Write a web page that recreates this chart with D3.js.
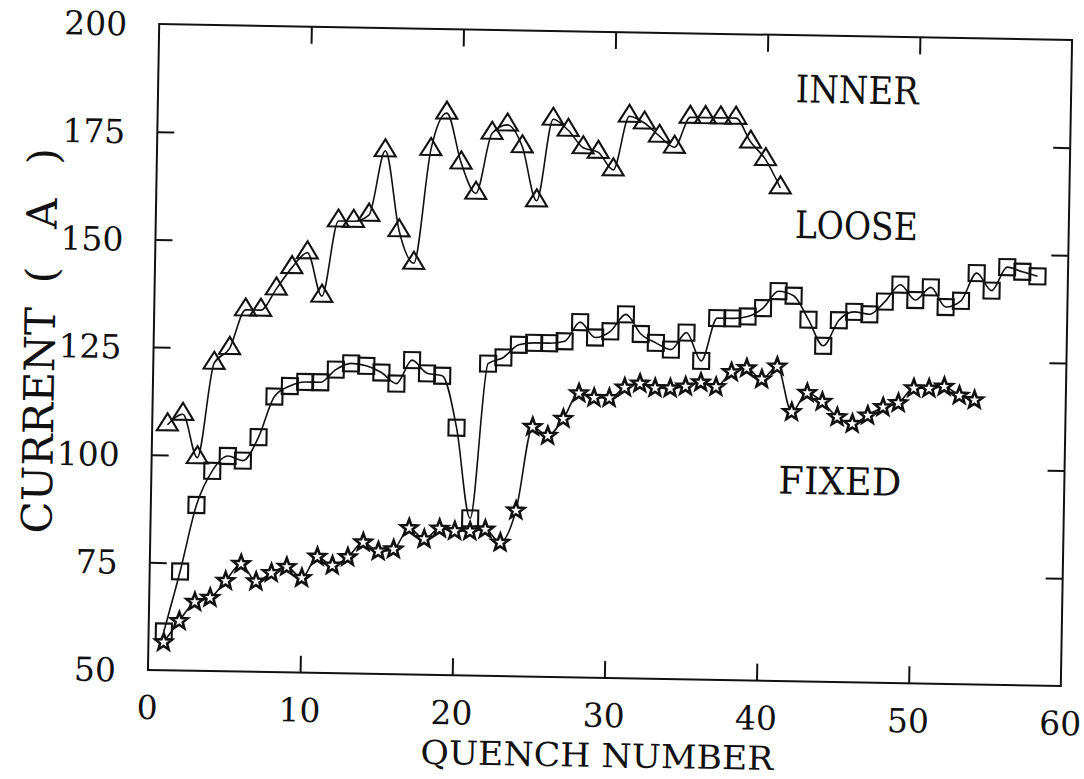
<!DOCTYPE html>
<html>
<head>
<meta charset="utf-8">
<script src="https://cdn.jsdelivr.net/npm/d3@7"></script>
<style>
    html, body { margin: 0; padding: 0; background: #fff; }
    svg { display: block; }
    text { font-family: "DejaVu Serif", "Liberation Serif", serif; fill: #111; }
</style>
</head>
<body>
<svg id="chart" width="1084" height="779"></svg>
<script>
// currents, one value per quench (quench 1, 2, 3 ...)
const innerCurrent = [107, 109.5, 99.5, 121.5, 125, 134, 134, 139, 144, 147.5,
    137.5, 155, 155, 156.5, 171.5, 153, 145.5, 172, 180.5, 169,
    162, 176, 178, 173, 160.5, 179.5, 177, 173, 172, 168,
    180.5, 179, 176, 173.5, 180.5, 180.5, 180.5, 180.5, 175, 171,
    164.5];
const looseCurrent = [59, 73, 88.5, 96.5, 100, 99, 104.5, 114, 116.5, 117.5,
    117.5, 120.5, 122, 121.5, 120, 117.5, 123, 120, 119.5, 107.5,
    86.5, 122.5, 124, 127, 127.5, 127.5, 128, 132.5, 129, 130.5,
    134.5, 130, 128, 126.5, 130.5, 124, 134, 134, 134.5, 136.5,
    140.5, 139.5, 134, 128, 134, 136, 135.5, 138.5, 142.5, 139,
    142, 137.5, 139, 145.5, 141.5, 147, 146, 145];
const fixedCurrent = [56.5, 61.5, 66, 67, 71, 75, 71, 73, 74.5, 72,
    77, 75, 77, 80.5, 78.5, 79, 84, 81.5, 84, 83.5,
    83.5, 84, 81, 88.5, 108, 106, 110, 116, 115, 115,
    117.5, 118.5, 117.5, 117.5, 118, 119, 118, 121.5, 122.5, 120,
    123, 112.5, 117, 115, 111.5, 110, 112, 114, 115, 118.5,
    118.5, 119, 117, 116];

const xTicks = [0, 10, 20, 30, 40, 50, 60];
const yTicks = [50, 75, 100, 125, 150, 175, 200];
const seriesNames = ['INNER', 'LOOSE', 'FIXED'];
const seriesMarkers = ['triangle', 'square', 'star'];
// where each name sits, in quench / ampere units
const nameAtQuench = [41.9, 42.0, 41.2];
const nameAtCurrent = [184.4, 152.9, 93.5];

const xTitle = 'QUENCH NUMBER';
// the y title is typeset in pieces with wide gaps round the unit
const yTitleParts = ['CURRENT', '(', 'A', ')'];
const yTitleGaps = [0, 24, 38, 34];

let margin = {top: 32, right: 17.5, bottom: 101, left: 153.5},
    width = 1084 - margin.left - margin.right,
    height = 779 - margin.top - margin.bottom;

const svg = d3.select('#chart');
// the scanned page is turned about one degree
let page = svg.append('g')
    .attr('transform', 'rotate(1,' + (margin.left + width / 2) + ',' + (margin.top + height / 2) + ')');
let g = page.append('g')
    .attr('transform', 'translate(' + margin.left + ',' + margin.top + ')');

let x = d3.scaleLinear().domain([0, 60]).range([0, width]);
let y = d3.scaleLinear().domain([50, 200]).range([height, 0]);

function markerPath(kind) {
    if (kind === 'triangle') {
        return 'M0,-11.5L10.5,5.5L-10.5,5.5Z';
    }
    if (kind === 'square') {
        return 'M-8,-8H8V8H-8Z';
    }
    // five pointed star
    let pts = [];
    for (let i = 0; i < 10; i++) {
        let r = i % 2 === 0 ? 8.8 : 3.7;
        let a = -Math.PI / 2 + i * Math.PI / 5;
        pts.push([r * Math.cos(a), r * Math.sin(a)]);
    }
    return 'M' + pts.map(p => p[0].toFixed(2) + ',' + p[1].toFixed(2)).join('L') + 'Z';
}

// frame
g.append('rect')
    .attr('width', width)
    .attr('height', height)
    .attr('fill', 'none')
    .attr('stroke', '#111')
    .attr('stroke-width', 2);

// inward ticks on all four sides, no labels on the opposite sides
let tickLen = 17;
let innerX = xTicks.slice(1, -1);
let innerY = yTicks.slice(1, -1);
g.append('g')
    .attr('transform', 'translate(0,' + height + ')')
    .call(d3.axisBottom(x).tickValues(innerX).tickSize(-tickLen).tickFormat(''))
    .call(a => a.select('.domain').remove());
g.append('g')
    .call(d3.axisTop(x).tickValues(innerX).tickSize(-tickLen).tickFormat(''))
    .call(a => a.select('.domain').remove());
g.append('g')
    .call(d3.axisLeft(y).tickValues(innerY).tickSize(-tickLen).tickFormat(''))
    .call(a => a.select('.domain').remove());
g.append('g')
    .attr('transform', 'translate(' + width + ',0)')
    .call(d3.axisRight(y).tickValues(innerY).tickSize(-tickLen).tickFormat(''))
    .call(a => a.select('.domain').remove());
g.selectAll('.tick line').attr('stroke', '#111').attr('stroke-width', 2);

// tick labels
g.selectAll('.xlabel')
    .data(xTicks)
    .enter().append('text')
    .attr('class', 'xlabel')
    .attr('x', d => x(d))
    .attr('y', height + 49)
    .attr('text-anchor', 'middle')
    .attr('font-size', 33)
    .text(d => d);
g.selectAll('.ylabel')
    .data(yTicks)
    .enter().append('text')
    .attr('class', 'ylabel')
    .attr('x', -32)
    .attr('y', d => y(d))
    .attr('dy', '0.36em')
    .attr('text-anchor', 'end')
    .attr('font-size', 33)
    .text(d => d);

// axis titles
g.append('text')
    .attr('x', x(29.6))
    .attr('y', height + 89)
    .attr('text-anchor', 'middle')
    .attr('font-size', 33)
    .attr('textLength', 353)
    .attr('lengthAdjust', 'spacingAndGlyphs')
    .text(xTitle);
let yTitle = g.append('text')
    .attr('transform', 'translate(' + (-99) + ',' + (y(126)) + ') rotate(-90)')
    .attr('text-anchor', 'middle')
    .attr('font-size', 42);
yTitle.selectAll('tspan')
    .data(yTitleParts)
    .enter().append('tspan')
    .attr('dx', (d, i) => yTitleGaps[i])
    .text(d => d);

// series
const allSeries = [innerCurrent, looseCurrent, fixedCurrent];
let line = d3.line()
    .x((d, i) => x(i + 1))
    .y(d => y(d))
    .curve(d3.curveMonotoneX);

allSeries.forEach(function (values, k) {
    let s = g.append('g').attr('class', 'series-' + seriesNames[k].toLowerCase());
    s.append('path')
        .datum(values)
        .attr('d', line)
        .attr('fill', 'none')
        .attr('stroke', '#111')
        .attr('stroke-width', 1.6);
    s.selectAll('path.mark')
        .data(values)
        .enter().append('path')
        .attr('class', 'mark')
        .attr('transform', (d, i) => 'translate(' + x(i + 1) + ',' + y(d) + ')')
        .attr('d', markerPath(seriesMarkers[k]))
        .attr('fill', seriesMarkers[k] === 'star' ? '#fff' : 'none')
        .attr('stroke', '#111')
        .attr('stroke-width', seriesMarkers[k] === 'star' ? 2.6 : 2.1)
        .attr('stroke-linejoin', 'miter');
});

// series names inside the frame
g.selectAll('.name')
    .data(seriesNames)
    .enter().append('text')
    .attr('class', 'name')
    .attr('x', (d, i) => x(nameAtQuench[i]))
    .attr('y', (d, i) => y(nameAtCurrent[i]))
    .attr('font-size', 38)
    .attr('textLength', 123)
    .attr('lengthAdjust', 'spacingAndGlyphs')
    .text(d => d);
</script>
</body>
</html>
